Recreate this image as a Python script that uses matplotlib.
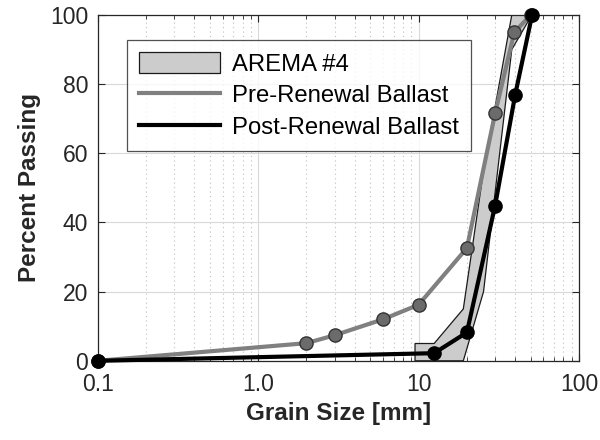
import matplotlib
matplotlib.use("Agg")
import matplotlib.pyplot as plt
from matplotlib.patches import Patch
from matplotlib.lines import Line2D
from matplotlib.ticker import FixedLocator, LogLocator, NullFormatter

plt.rcParams["font.family"] = ["Liberation Sans", "DejaVu Sans"]

# AREMA #4 gradation envelope (upper then lower limit)
arema_upper_x = [9.5, 12.5, 19.0, 25.4, 38.1, 50.8]
arema_upper_y = [5, 5, 15, 55, 100, 100]
arema_lower_x = [9.5, 19.0, 25.4, 38.1, 50.8]
arema_lower_y = [0, 0, 20, 90, 100]

pre_x = [0.1, 2.0, 3.0, 6.0, 10.0, 20.0, 30.0, 39.5, 50.0]
pre_y = [0, 5.1, 7.4, 12.0, 16.2, 32.6, 71.6, 95.0, 100]

post_x = [0.1, 12.5, 20.0, 30.0, 40.0, 51.0]
post_y = [0, 2.2, 8.2, 44.9, 76.9, 100]

xticks = [0.1, 1.0, 10, 100]
xtick_labels = ["0.1", "1.0", "10", "100"]
yticks = [0, 20, 40, 60, 80, 100]

fig = plt.figure(figsize=(6, 4.4), dpi=100)
ax = fig.add_axes([0.163, 0.18, 0.802, 0.786])

poly_x = arema_upper_x + arema_lower_x[::-1]
poly_y = arema_upper_y + arema_lower_y[::-1]
ax.fill(poly_x, poly_y, facecolor="#cccccc", edgecolor="#1a1a1a", lw=0.9, zorder=2)

ax.plot(pre_x, pre_y, color="#808080", lw=3, marker="o", ms=9.5,
        mfc="#6b6b6b", mec="#333333", mew=1.0, zorder=3, clip_on=False)
ax.plot(post_x, post_y, color="black", lw=3, marker="o", ms=9.5,
        mfc="black", mec="black", zorder=4, clip_on=False)

ax.set_xscale("log")
ax.set_xlim(0.1, 100)
ax.set_ylim(0, 100)
ax.xaxis.set_major_locator(FixedLocator(xticks))
ax.set_xticklabels(xtick_labels)
ax.xaxis.set_minor_locator(LogLocator(base=10, subs=range(2, 10)))
ax.xaxis.set_minor_formatter(NullFormatter())
ax.set_yticks(yticks)

ax.grid(True, which="major", color="#d9d9d9", lw=0.8, zorder=0)
ax.grid(True, which="minor", axis="x", color="#c0c0c0", lw=0.8, ls=(0, (1, 3)), zorder=0)
ax.set_axisbelow(True)

ax.tick_params(which="both", direction="in", colors="#262626", labelsize=16.5,
               top=True, right=True)
ax.tick_params(which="major", length=5)
ax.tick_params(which="minor", length=3)
ax.tick_params(axis="x", pad=9)
ax.tick_params(axis="y", pad=7)
for s in ax.spines.values():
    s.set_color("#262626")
    s.set_linewidth(0.9)

ax.set_xlabel("Grain Size [mm]", fontsize=17.5, fontweight="bold", color="#262626", labelpad=4)
ax.set_ylabel("Percent Passing", fontsize=17.5, fontweight="bold", color="#262626", labelpad=6)

handles = [
    Patch(facecolor="#cccccc", edgecolor="#1a1a1a", lw=0.9),
    Line2D([], [], color="#808080", lw=3),
    Line2D([], [], color="black", lw=3),
]
leg = ax.legend(handles, ["AREMA #4", "Pre-Renewal Ballast", "Post-Renewal Ballast"],
                loc="upper left", bbox_to_anchor=(0.06, 0.928), fontsize=17.2,
                frameon=True, fancybox=False, edgecolor="#262626",
                handlelength=3.4, handleheight=1.0, borderpad=0.5, labelspacing=0.33,
                handletextpad=0.5, borderaxespad=0)
leg.get_frame().set_linewidth(0.9)

fig.savefig("out.png", dpi=100)
